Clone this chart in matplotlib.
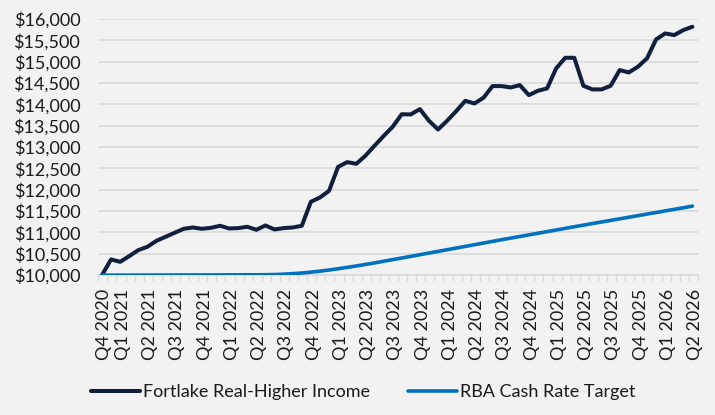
import numpy as np
import matplotlib.pyplot as plt
from matplotlib.ticker import FuncFormatter

# Monthly growth of $10,000
fortlake = [10000, 10368, 10312, 10445, 10586, 10664, 10805, 10898, 10992, 11086,
            11117, 11086, 11109, 11156, 11094, 11102, 11133, 11063, 11164, 11070,
            11102, 11117, 11156, 11719, 11820, 11976, 12539, 12648, 12609, 12797,
            13031, 13258, 13475, 13770, 13766, 13891, 13617, 13414, 13617, 13844,
            14085, 14023, 14156, 14430, 14430, 14398, 14453, 14219, 14320, 14375,
            14844, 15093, 15093, 14437, 14352, 14352, 14437, 14805, 14750, 14883,
            15078, 15523, 15664, 15625, 15742, 15820]

rba = [10000, 10000, 10001, 10001, 10002, 10002, 10003, 10003, 10004, 10004,
       10005, 10005, 10006, 10006, 10007, 10007, 10008, 10008, 10010, 10014,
       10022, 10034, 10050, 10070, 10093, 10120, 10150, 10182, 10215, 10250,
       10287, 10325, 10363, 10401, 10440, 10479, 10518, 10557, 10596, 10635,
       10674, 10713, 10752, 10791, 10830, 10868, 10906, 10944, 10982, 11020,
       11058, 11096, 11134, 11172, 11209, 11246, 11283, 11320, 11357, 11394,
       11431, 11468, 11505, 11542, 11579, 11617]

quarter_labels = ['Q4 2020', 'Q1 2021', 'Q2 2021', 'Q3 2021', 'Q4 2021',
                  'Q1 2022', 'Q2 2022', 'Q3 2022', 'Q4 2022',
                  'Q1 2023', 'Q2 2023', 'Q3 2023', 'Q4 2023',
                  'Q1 2024', 'Q2 2024', 'Q3 2024', 'Q4 2024',
                  'Q1 2025', 'Q2 2025', 'Q3 2025', 'Q4 2025',
                  'Q1 2026', 'Q2 2026']

plt.rcParams['font.family'] = ['Lato', 'DejaVu Sans']
bg = '#F2F2F2'
grid_col = '#D9D9D9'
text_col = '#1A1A1A'

fig = plt.figure(figsize=(7.15, 4.15), dpi=100, facecolor=bg)
ax = fig.add_axes([0.1375, 0.337, 0.8385, 0.617])
ax.set_facecolor(bg)

x = np.arange(len(fortlake))
ax.plot(x, fortlake, color='#0F1F3D', lw=2.9, solid_capstyle='round',
        solid_joinstyle='round', label='Fortlake Real-Higher Income', zorder=3)
ax.plot(x, rba, color='#0070C0', lw=2.6, solid_capstyle='round',
        solid_joinstyle='round', label='RBA Cash Rate Target', zorder=3)

ax.set_ylim(10000, 16000)
ax.set_yticks(np.arange(10000, 16001, 500))
ax.yaxis.set_major_formatter(FuncFormatter(lambda v, p: f'${v:,.0f}'))
ax.grid(axis='y', color=grid_col, lw=1.2)
ax.set_axisbelow(True)
ax.tick_params(axis='y', length=0, pad=13, labelsize=13, labelcolor=text_col)

# month tick marks and quarter labels
ax.set_xlim(-0.4, len(fortlake) - 0.4)
ax.set_xticks(np.arange(len(fortlake) + 1) - 0.4, minor=True)
ax.tick_params(axis='x', which='minor', length=4, width=1, color=grid_col, direction='out')
label_pos = [0.25] + [3 * k - 0.7 for k in range(1, len(quarter_labels))]
ax.set_xticks(label_pos)
ax.set_xticklabels(quarter_labels, rotation=90)
ax.tick_params(axis='x', which='major', length=0, pad=10, labelsize=13, labelcolor=text_col)

for s in ['top', 'right', 'left']:
    ax.spines[s].set_visible(False)
ax.spines['bottom'].set_color(grid_col)
ax.spines['bottom'].set_linewidth(1.2)

fig.legend(loc='center', bbox_to_anchor=(0.508, 0.055), ncol=2, frameon=False,
           fontsize=13, handlelength=2.67, handletextpad=0.17, columnspacing=2.15,
           labelcolor=text_col)

plt.savefig('out.png', dpi=100, facecolor=bg)
plt.close()
